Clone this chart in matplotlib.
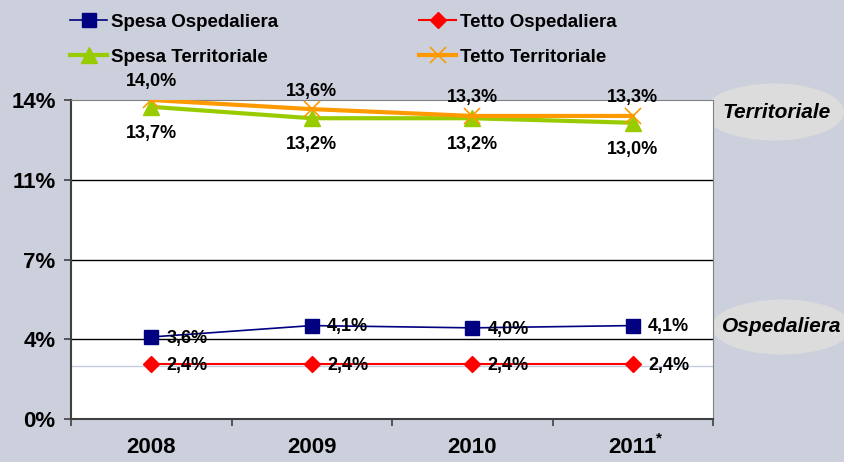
import matplotlib.pyplot as plt
from matplotlib.patches import Ellipse

plt.rcParams['font.family'] = ['Liberation Sans', 'DejaVu Sans']
plt.rcParams['font.weight'] = 'bold'

anni = ['2008', '2009', '2010', '2011*']
spesa_osp = [3.6, 4.1, 4.0, 4.1]
tetto_osp = [2.4, 2.4, 2.4, 2.4]
spesa_terr = [13.7, 13.2, 13.2, 13.0]
tetto_terr = [14.0, 13.6, 13.3, 13.3]
y_ticks = [0, 3.5, 7, 10.5, 14]
y_labels = ['0%', '4%', '7%', '11%', '14%']

bg = '#CCD0DC'
fig = plt.figure(figsize=(8.44, 4.62), dpi=100, facecolor=bg)
ax = fig.add_axes([71/844, 1-419/462, 642/844, 319/462])
ax.set_facecolor('white')

x = range(len(anni))

# grid lines and faint line under the red series
for g in [3.5, 7, 10.5]:
    ax.axhline(g, color='black', lw=1, zorder=1)
ax.axhline(2.32, color='#C4CCE0', lw=1, zorder=1)

l1, = ax.plot(x, spesa_osp, color='#000080', lw=1.2, marker='s', ms=10,
              label='Spesa Ospedaliera', zorder=3)
l2, = ax.plot(x, tetto_osp, color='#FF0000', lw=1.5, marker='D', ms=8,
              label='Tetto Ospedaliera', zorder=3)
l3, = ax.plot(x, spesa_terr, color='#99CC00', lw=3, marker='^', ms=11,
              label='Spesa Territoriale', zorder=3)
l4, = ax.plot(x, tetto_terr, color='#FF9900', lw=3, marker='x', ms=11, mew=1.2,
              label='Tetto Territoriale', zorder=4)

def fmt(v):
    return ('%.1f%%' % v).replace('.', ',')

for i in x:
    ax.annotate(fmt(spesa_osp[i]), (i, spesa_osp[i]), xytext=(11, -1),
                textcoords='offset points', ha='left', va='center', fontsize=13)
    ax.annotate(fmt(tetto_osp[i]), (i, tetto_osp[i]), xytext=(11, -1),
                textcoords='offset points', ha='left', va='center', fontsize=13)
    ax.annotate(fmt(spesa_terr[i]), (i, spesa_terr[i]), xytext=(0, -19),
                textcoords='offset points', ha='center', va='center', fontsize=13)
    ax.annotate(fmt(tetto_terr[i]), (i, tetto_terr[i]), xytext=(0, 13),
                textcoords='offset points', ha='center', va='center', fontsize=13,
                annotation_clip=False)

ax.set_xlim(-0.5, 3.5)
ax.set_ylim(0, 14)
ax.set_xticks([-0.5, 0.5, 1.5, 2.5, 3.5])
ax.set_xticklabels([])
ax.set_xticks(list(x), minor=True)
ax.set_xticklabels([a.rstrip('*') for a in anni], minor=True, fontsize=16)
ax.tick_params(axis='x', which='major', length=5, width=1.2, color='#404040')
ax.tick_params(axis='x', which='minor', length=0, pad=13)
# asterisk as superscript next to the year
for i, a in enumerate(anni):
    if a.endswith('*'):
        ax.annotate('*', (i, 0), xytext=(19, -14), textcoords='offset points',
                    ha='center', va='center', fontsize=11, annotation_clip=False)
ax.set_yticks(y_ticks)
ax.set_yticklabels(y_labels, fontsize=16)
ax.tick_params(axis='y', length=5, width=1.2, color='#404040', pad=6)

ax.spines['left'].set_color('#404040')
ax.spines['left'].set_linewidth(1.5)
ax.spines['bottom'].set_color('#404040')
ax.spines['bottom'].set_linewidth(1.5)
ax.spines['top'].set_color('#808080')
ax.spines['right'].set_color('#808080')

# grey ellipses on the right
e1 = Ellipse((774/844, 1-112/462), 140/844, 57/462, transform=fig.transFigure,
             facecolor='#DCDCDC', edgecolor='none', zorder=-1)
e2 = Ellipse((782/844, 1-327/462), 140/844, 55/462, transform=fig.transFigure,
             facecolor='#DCDCDC', edgecolor='none', zorder=-1)
fig.add_artist(e1)
fig.add_artist(e2)
fig.text(777/844, 1-113/462, 'Territoriale', ha='center', va='center',
         fontsize=15, style='italic')
fig.text(782/844, 1-327/462, 'Ospedaliera', ha='center', va='center',
         fontsize=15, style='italic')

fig.legend(handles=[l1, l3, l2, l4], ncol=2, loc='upper left',
           bbox_to_anchor=(66/844, 1-10/462), frameon=False, fontsize=13.5,
           borderaxespad=0, borderpad=0.2,
           handlelength=2.0, handletextpad=0.2, columnspacing=7.5,
           labelspacing=0.95)

plt.savefig('out.png', dpi=100, facecolor=bg)
